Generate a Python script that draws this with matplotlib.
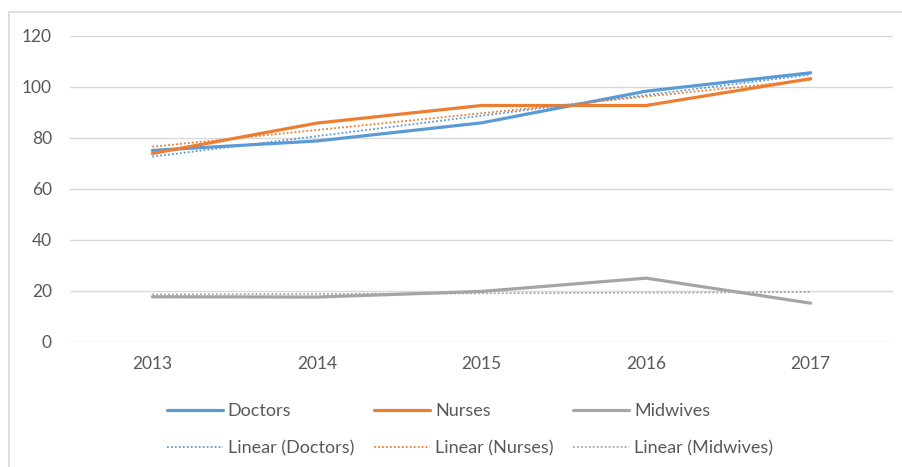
import numpy as np
import matplotlib.pyplot as plt

plt.rcParams['font.family'] = ['Lato', 'DejaVu Sans']

years = ['2013', '2014', '2015', '2016', '2017']
doctors = [75.0, 78.7, 85.8, 98.2, 105.4]
nurses = [73.8, 85.7, 92.6, 92.6, 103.1]
midwives = [17.7, 17.6, 19.8, 25.0, 15.2]

names = ['Doctors', 'Nurses', 'Midwives']
colors = ['#5B9BD5', '#ED7D31', '#A5A5A5']
text_col = '#595959'

W, H = 903, 467
fig = plt.figure(figsize=(W / 100, H / 100), dpi=100)
ax = fig.add_axes([70 / W, 1 - 342 / H, (893 - 70) / W, (342 - 35.5) / H])

# outer chart border (runs off the right and bottom edge)
fig.patches.append(plt.Rectangle((9 / W, -0.05), 1.0, 1 - 12 / H + 0.05,
                                 transform=fig.transFigure, fill=False,
                                 edgecolor='#d9d9d9', lw=1.2))

x = np.arange(len(years))
handles = []
for name, vals, c in zip(names, [doctors, nurses, midwives], colors):
    ln, = ax.plot(x, vals, color=c, lw=2.3, solid_capstyle='round', zorder=3,
                  label=name)
    k, b = np.polyfit(x, vals, 1)
    tr, = ax.plot(x, k * x + b, color=c, lw=1.3, linestyle=(0, (1, 1.2)),
                  zorder=4, label='Linear (%s)' % name)
    handles += [ln, tr]

ax.set_xlim(-0.5, len(years) - 0.5)
ax.set_ylim(0, 120)
ax.set_yticks(range(0, 121, 20))
ax.set_xticks(x)
ax.set_xticklabels(years)
ax.grid(axis='y', color='#d9d9d9', lw=1)
ax.set_axisbelow(True)
for s in ax.spines.values():
    s.set_visible(False)
ax.tick_params(length=0, labelsize=12.5, colors=text_col)
ax.tick_params(axis='y', pad=13)
ax.tick_params(axis='x', pad=10)

leg = fig.legend(handles=handles, ncol=3, loc='center',
                 bbox_to_anchor=(470 / W, 1 - 429.5 / H), frameon=False,
                 fontsize=13, handlelength=3.1, handletextpad=0.28,
                 columnspacing=1.1, labelspacing=1.15)
for t in leg.get_texts():
    t.set_color(text_col)

fig.savefig('out.png', dpi=100, facecolor='white')
